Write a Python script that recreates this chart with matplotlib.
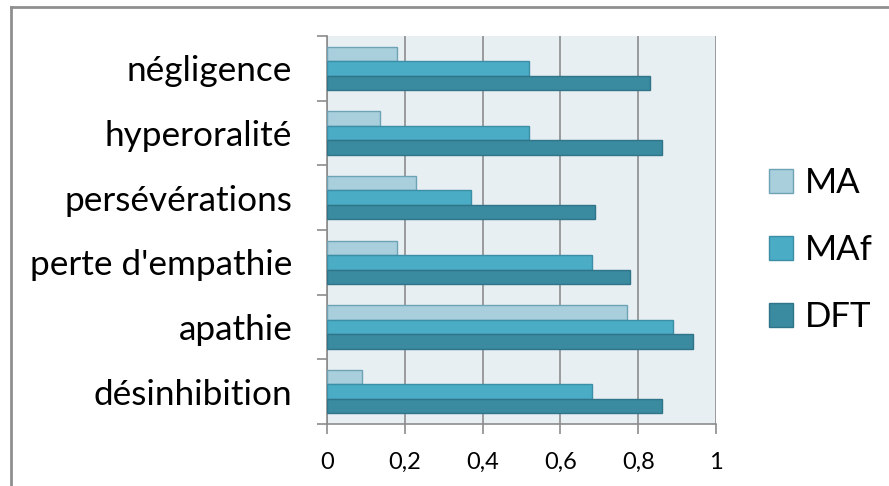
import numpy as np
import matplotlib.pyplot as plt
from matplotlib.lines import Line2D

# Symptômes (de haut en bas) et proportions par groupe
symptomes = ["négligence", "hyperoralité", "persévérations",
             "perte d'empathie", "apathie", "désinhibition"]
ma = [0.18, 0.135, 0.23, 0.18, 0.77, 0.09]
maf = [0.52, 0.52, 0.37, 0.68, 0.89, 0.68]
dft = [0.83, 0.86, 0.69, 0.78, 0.94, 0.86]
groupes = ["MA", "MAf", "DFT"]
couleurs = ["#A9CFDD", "#4BACC6", "#3A8AA0"]
bords = ["#6EA3B6", "#3B8EA6", "#2F7489"]
xticks = [0, 0.2, 0.4, 0.6, 0.8, 1]
xlabels = ["0", "0,2", "0,4", "0,6", "0,8", "1"]

plt.rcParams['font.family'] = ['Lato', 'DejaVu Sans']

fig = plt.figure(figsize=(8.89, 4.86), dpi=100)
ax = fig.add_axes([327 / 889, 1 - 424 / 486, 389 / 889, 388 / 486])
ax.set_facecolor("#E8EFF3")

n = len(symptomes)
y = np.arange(n)[::-1]  # négligence en haut
h = 1 / 4.5
for i, (vals, c, b) in enumerate(zip([ma, maf, dft], couleurs, bords)):
    ax.barh(y + (1 - i) * h, vals, height=h, color=c, edgecolor=b,
            linewidth=1, label=groupes[i], zorder=3)

ax.set_xlim(0, 1)
ax.set_ylim(-0.5, n - 0.5)
ax.set_xticks(xticks)
ax.set_xticklabels(xlabels, fontsize=17)
ax.xaxis.grid(True, color="#8C8C8C", linewidth=1.2, zorder=0)
ax.set_yticks(y)
ax.set_yticklabels(symptomes, fontsize=25.3)
ax.set_yticks(np.arange(n + 1) - 0.5, minor=True)
ax.tick_params(axis="y", which="major", length=0, pad=25)
ax.tick_params(axis="y", which="minor", length=7, color="#8C8C8C", width=1.2)
ax.tick_params(axis="x", length=7, color="#8C8C8C", width=1.2, pad=13)
for s in ["top", "right"]:
    ax.spines[s].set_visible(False)
for s in ["left", "bottom"]:
    ax.spines[s].set_color("#8C8C8C")
    ax.spines[s].set_linewidth(1.2)

ax.legend(loc="center left", bbox_to_anchor=(1.10, 0.448), frameon=False,
          fontsize=25, handlelength=0.7, handleheight=0.7,
          labelspacing=1.0, handletextpad=0.35, borderaxespad=0)

# cadre extérieur
fig.add_artist(Line2D([11 / 889, 11 / 889], [0, 1 - 7 / 486],
                      transform=fig.transFigure, color="#8F8F8F", linewidth=2))
fig.add_artist(Line2D([11 / 889, 1], [1 - 7 / 486, 1 - 7 / 486],
                      transform=fig.transFigure, color="#8F8F8F", linewidth=2))

fig.savefig("out.png", dpi=100)
